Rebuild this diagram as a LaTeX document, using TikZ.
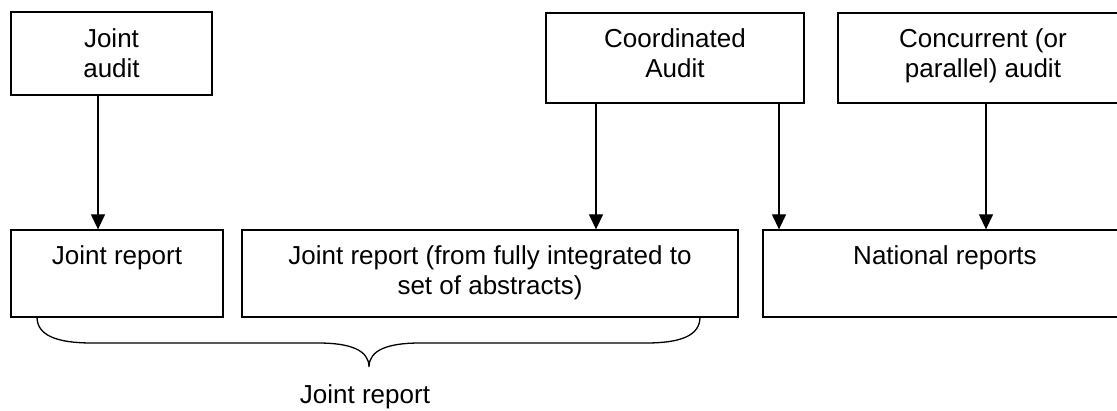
\documentclass[tikz,border=0pt]{standalone}
\usepackage{fontspec}
\setmainfont{Liberation Sans}
\usetikzlibrary{arrows.meta}
\begin{document}
\begin{tikzpicture}[x=1pt,y=-1pt,
  box/.style={draw=black, line width=1.3pt, inner sep=0pt, fill=none},
  txt/.style={align=center, inner sep=0pt, font=\fontsize{26}{29.5}\selectfont},
  arr/.style={line width=1.3pt, -{Triangle[width=14pt,length=15pt]}},
  brace/.style={line width=1.3pt}]
\useasboundingbox (0,0) rectangle (1117,411);
\clip (0,0) rectangle (1117,411);
% top boxes
\node[box, minimum width=201pt, minimum height=83pt] (ja) at (111.5,53.5) {};
\node[box, minimum width=258pt, minimum height=90pt] (ca) at (675,58) {};
\node[box, minimum width=290pt, minimum height=90pt] (cc) at (983,58) {};
% bottom boxes
\node[box, minimum width=212pt, minimum height=87pt] (jr) at (117,273.5) {};
\node[box, minimum width=496pt, minimum height=87pt] (jl) at (490,273.5) {};
\node[box, minimum width=364pt, minimum height=87pt] (nr) at (945,273.5) {};
% texts
\node[txt, anchor=north] (jat) at ([yshift=-15.4pt]ja.north) {\strut Joint\\\strut audit};
\node[txt, anchor=north] (cat) at ([yshift=-14.4pt]ca.north) {\strut Coordinated\\\strut Audit};
\node[txt, anchor=north] (cct) at ([yshift=-14.4pt]cc.north) {\strut Concurrent (or\\\strut parallel) audit};
\node[txt, anchor=north] (jrt) at ([yshift=-14.4pt]jr.north) {\strut Joint report};
\node[txt, anchor=north] (jlt) at ([yshift=-14.4pt]jl.north) {\strut Joint report (from fully integrated to\\\strut set of abstracts)};
\node[txt, anchor=north] (nrt) at ([yshift=-14.4pt]nr.north) {\strut National reports};
% arrows
\coordinate (x1) at (98,0);
\coordinate (x2) at (596,0);
\coordinate (x3) at (779,0);
\coordinate (x4) at (986,0);
\draw[arr] (ja.south -| x1) -- (jr.north -| x1);
\draw[arr] (ca.south -| x2) -- (jl.north -| x2);
\draw[arr] (ca.south -| x3) -- (nr.north -| x3);
\draw[arr] (cc.south -| x4) -- (nr.north -| x4);
% brace
\draw[brace] (37,317) .. controls (37,336) and (58,343) .. (92,343)
  -- (318,343) .. controls (350,343) and (369,350) .. (369,367)
  .. controls (369,350) and (388,343) .. (420,343)
  -- (646,343) .. controls (680,343) and (700,336) .. (700,317);
\node[txt, anchor=base] (jj) at (365,404) {Joint report};
\end{tikzpicture}
\end{document}
